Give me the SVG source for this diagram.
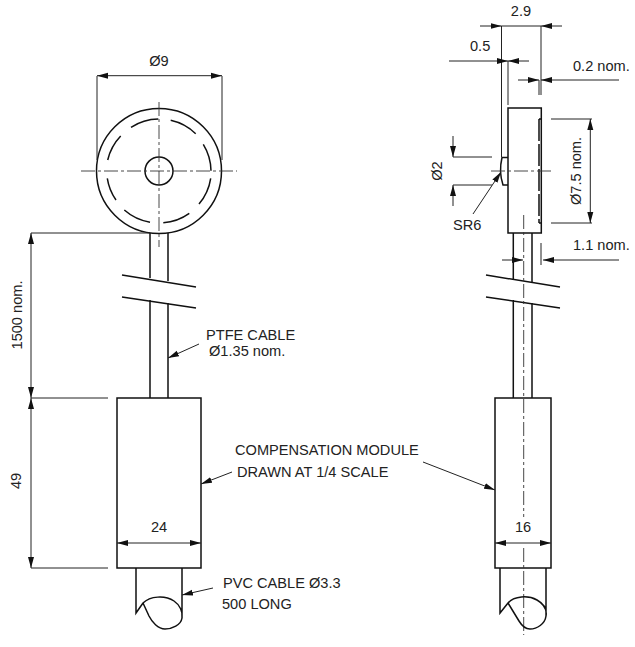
<svg xmlns="http://www.w3.org/2000/svg" width="635" height="647" viewBox="0 0 635 647">
<style>
text{font-family:"Liberation Sans",Arial,sans-serif;font-size:14.6px;fill:#222}
.m{text-anchor:middle}
.o{fill:none;stroke:#111;stroke-width:1.5}
.w{fill:none;stroke:#222;stroke-width:1}
.c{fill:none;stroke:#333;stroke-width:.9;stroke-dasharray:14 3 3 3}
.h{fill:none;stroke:#111;stroke-width:1.5;stroke-dasharray:22 3}
.d{fill:none;stroke:#222;stroke-width:1;marker-start:url(#s);marker-end:url(#e)}
.l{fill:none;stroke:#222;stroke-width:1;marker-end:url(#e)}
</style>
<defs>
<marker id="e" markerUnits="userSpaceOnUse" markerWidth="12" markerHeight="7" refX="11" refY="3.500" orient="auto"><path d="M0 .5L11 3.500L0 6.500Z" fill="#111"/></marker>
<marker id="s" markerUnits="userSpaceOnUse" markerWidth="12" markerHeight="7" refX="0" refY="3.500" orient="auto"><path d="M11 .5L0 3.500L11 6.500Z" fill="#111"/></marker>
</defs>
<g id="front-view">
<circle class="o" cx="159" cy="171" r="62.500"/>
<path class="o" d="M131 127.300A52 52 0 0 1 158.300 119M170.700 120.300A52 52 0 0 1 195.700 133.700M203.300 144.300A52 52 0 0 1 211 170.700M210.700 178.300A52 52 0 0 1 199 204M189.300 213.300A52 52 0 0 1 163.300 222.800M150 222.200A52 52 0 0 1 124.300 210M116 200A52 52 0 0 1 107.300 178.300M107.700 160A52 52 0 0 1 120.700 136"/>
<circle class="o" cx="159" cy="171" r="14"/>
<path class="c" d="M81 171H237M159 102V247"/>
<path class="o" d="M150 233V278M168 233V281M150 300V398M168 303V398"/>
<path class="o" d="M122 275L196 287M122 297L196 308"/>
</g>
<g id="front-module">
<rect class="o" x="117" y="398" width="84" height="170"/>
<path class="o" d="M136 568V613L143 603C150 596 165 595 174 601C180 605 183 612 182 618C181 625 172 629 165 629C158 629 152 622 149 616L143 603M182 568V618"/>
</g>
<g id="side-view">
<rect class="o" x="508" y="108" width="33.300" height="125"/>
<path class="o" d="M508 157.500H502C500 166 500 176 503 185H508"/>
<path class="h" d="M539 119V223"/>
<path class="o" d="M539 119H541M539 223H541"/>
<path class="c" d="M491 171H552"/>
<path class="o" d="M513.300 233V279M532 233V282M513.300 300V398M532 303V398"/>
<path class="o" d="M486 275L560 287M486 297L560 308"/>
</g>
<g id="side-module">
<rect class="o" x="495" y="398" width="56" height="170"/>
<path class="c" d="M523.700 215V517M523.700 548V635"/>
<path class="o" d="M500 568V613L508 603C514 596 528 595 537 600C544 604 547 610 546 616C545 624 537 629 530 629C525 629 522 626 519 621L508 603M546 568V616"/>
</g>
<g id="connectors">
<path class="w" d="M97 160V76M222 160V76M31 233H150M31 398H108M31 568H108"/>
<path class="d" d="M97 75.700H222"/>
<path class="d" d="M31 233V398"/>
<path class="d" d="M31 398V568"/>
<path class="d" d="M117 543H201"/>
<path class="d" d="M495 543H551"/>
<path class="w" d="M501.500 26V157M541 26V95M539 80V95M508 61V105M551 119H592M551 223H592M453 157H492M453 185H492M541 243V265M501.500 26H541"/>
<path class="l" d="M480 26H501.500"/>
<path class="l" d="M562 26H541"/>
<path class="l" d="M449 61H508"/>
<path class="l" d="M529 61H508"/>
<path class="l" d="M518 80H539"/>
<path class="l" d="M619 80H541"/>
<path class="d" d="M590.300 119V223"/>
<path class="l" d="M453 136V157"/>
<path class="l" d="M453 206V185"/>
<path class="l" d="M502 260H523"/>
<path class="l" d="M619 260H543"/>
<path class="l" d="M473 214L501 172"/>
<path class="l" d="M199 344L168 358"/>
<path class="l" d="M232 472L201 484"/>
<path class="l" d="M423 462L495 490"/>
<path class="l" d="M213 588L182 595"/>
</g>
<g id="labels">
<text class="m" x="159" y="65.500">Ø9</text>
<text class="m" x="159" y="532">24</text>
<text class="m" x="523" y="532">16</text>
<text class="m" transform="translate(22 315) rotate(-90)">1500 nom.</text>
<text class="m" transform="translate(21 481) rotate(-90)">49</text>
<text x="206" y="340">PTFE CABLE</text>
<text x="209" y="356">Ø1.35 nom.</text>
<text x="235" y="455">COMPENSATION MODULE</text>
<text x="237" y="476.500">DRAWN AT 1/4 SCALE</text>
<text x="223" y="588">PVC CABLE Ø3.3</text>
<text x="222" y="609">500 LONG</text>
<text class="m" x="521" y="16">2.9</text>
<text x="470" y="51">0.5</text>
<text x="573" y="71">0.2 nom.</text>
<text x="573" y="250">1.1 nom.</text>
<text x="453" y="230">SR6</text>
<text class="m" transform="translate(442 171) rotate(-90)">Ø2</text>
<text class="m" transform="translate(581 171) rotate(-90)">Ø7.5 nom.</text>
</g>
</svg>
